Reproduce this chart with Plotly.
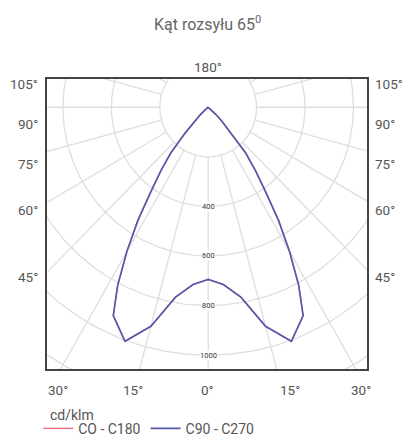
import numpy as np
import plotly.graph_objects as go

# ---- data ----
gamma_deg = [0, 5, 10, 15, 20, 25, 27.5, 30, 32.5, 35, 37.5, 40, 42.5, 45, 47.5, 50, 52.5, 55, 60, 90, 120, 150, 180]
c0_c180 = [695, 718, 778, 915, 1005, 928, 810, 672, 540, 407, 318, 240, 140, 80, 45, 18, 4, 0, 0, 0, 0, 0, 0]
c90_c270 = [695, 718, 778, 915, 1005, 928, 810, 672, 540, 407, 318, 240, 140, 80, 45, 18, 4, 0, 0, 0, 0, 0, 0]

grid_radii = [200, 400, 600, 800, 1000, 1200, 1400]
radius_labels = [400, 600, 800, 1000]
spoke_angles = list(range(0, 360, 15))

left_labels = ["105°", "90°", "75°", "60°", "45°"]
bottom_labels = ["30°", "15°", "0°", "15°", "30°"]
top_label = "180°"
series_names = ["CO - C180", "C90 - C270"]
title_text = "Kąt rozsyłu 65<sup>0</sup>"
unit_text = "cd/klm"

# ---- helpers ----
def to_xy(theta_deg, r):
    t = np.radians(np.asarray(theta_deg, dtype=float))
    r = np.asarray(r, dtype=float)
    return r * np.sin(t), -r * np.cos(t)

def full_curve(angles, values):
    a = np.asarray(angles, dtype=float)
    v = np.asarray(values, dtype=float)
    th = np.concatenate([-a[::-1], a[1:]])
    rr = np.concatenate([v[::-1], v[1:]])
    return to_xy(th, rr)

fig = go.Figure()
grid_col = "#dedede"

# grid circles
circ_t = np.linspace(0, 360, 361)
for r in grid_radii:
    x, y = to_xy(circ_t, np.full_like(circ_t, r))
    fig.add_trace(go.Scatter(x=x, y=y, mode="lines", line=dict(color=grid_col, width=1.3),
                             hoverinfo="skip", showlegend=False))
# radial spokes (from the first circle outward)
for a in spoke_angles:
    x, y = to_xy([a, a], [grid_radii[0], grid_radii[-1] * 1.5])
    fig.add_trace(go.Scatter(x=x, y=y, mode="lines", line=dict(color=grid_col, width=1.3),
                             hoverinfo="skip", showlegend=False))

# curves
x0, y0 = full_curve(gamma_deg, c0_c180)
fig.add_trace(go.Scatter(x=x0, y=y0, mode="lines", name=series_names[0],
                         line=dict(color="#ee6272", width=1.2)))
x1, y1 = full_curve(gamma_deg, c90_c270)
fig.add_trace(go.Scatter(x=x1, y=y1, mode="lines", name=series_names[1],
                         line=dict(color="#5858ac", width=1.7)))

font_family = "Roboto, Open Sans, sans-serif"
txt_col = "#555555"
lab_size = 13.5

ann = []
# radial value labels
for r in radius_labels:
    ann.append(dict(x=0, y=-r, xref="x", yref="y", text=str(r), showarrow=False,
                    font=dict(size=7.5, color="#333333", family=font_family),
                    bgcolor="white", borderpad=0))
# angle labels
left_y = [0.983, 0.845, 0.707, 0.548, 0.317]
for t, yy in zip(left_labels, left_y):
    ann.append(dict(x=-0.022, y=yy, xref="paper", yref="paper", text=t, showarrow=False,
                    xanchor="right", yanchor="middle", font=dict(size=lab_size, color=txt_col, family=font_family)))
    ann.append(dict(x=1.019, y=yy, xref="paper", yref="paper", text=t, showarrow=False,
                    xanchor="left", yanchor="middle", font=dict(size=lab_size, color=txt_col, family=font_family)))
bottom_x = [0.034, 0.269, 0.503, 0.759, 0.981]
for t, xx in zip(bottom_labels, bottom_x):
    ann.append(dict(x=xx, y=-0.072, xref="paper", yref="paper", text=t, showarrow=False,
                    xanchor="center", yanchor="middle", font=dict(size=lab_size, color=txt_col, family=font_family)))
ann.append(dict(x=0.503, y=1.041, xref="paper", yref="paper", text=top_label, showarrow=False,
                xanchor="center", yanchor="middle", font=dict(size=lab_size, color=txt_col, family=font_family)))
ann.append(dict(x=0.503, y=1.19, xref="paper", yref="paper", text=title_text, showarrow=False,
                xanchor="center", yanchor="middle", font=dict(size=16, color="#666666", family=font_family)))
ann.append(dict(x=0.003, y=-0.159, xref="paper", yref="paper", text=unit_text, showarrow=False,
                xanchor="left", yanchor="middle", font=dict(size=14, color=txt_col, family=font_family)))

fig.update_layout(
    width=402, height=438,
    margin=dict(l=47, r=35, t=79, b=69, autoexpand=False),
    paper_bgcolor="white", plot_bgcolor="white",
    annotations=ann,
    showlegend=True,
    legend=dict(orientation="h", xref="container", yref="container",
                x=0.095, y=0.021, xanchor="left", yanchor="middle",
                font=dict(size=14, color=txt_col, family=font_family),
                itemwidth=30, tracegroupgap=0, bgcolor="rgba(0,0,0,0)"),
)
fig.update_xaxes(range=[-666, 656], showgrid=False, zeroline=False, showticklabels=False,
                 ticks="", showline=True, mirror=True, linecolor="#444444", linewidth=1.5, fixedrange=True)
fig.update_yaxes(range=[-1056, 114], showgrid=False, zeroline=False, showticklabels=False,
                 ticks="", showline=True, mirror=True, linecolor="#444444", linewidth=1.5, fixedrange=True)

fig.write_html("out.html", config={"displayModeBar": False},
               post_script="document.body.style.margin='0';document.body.style.overflow='hidden';")
